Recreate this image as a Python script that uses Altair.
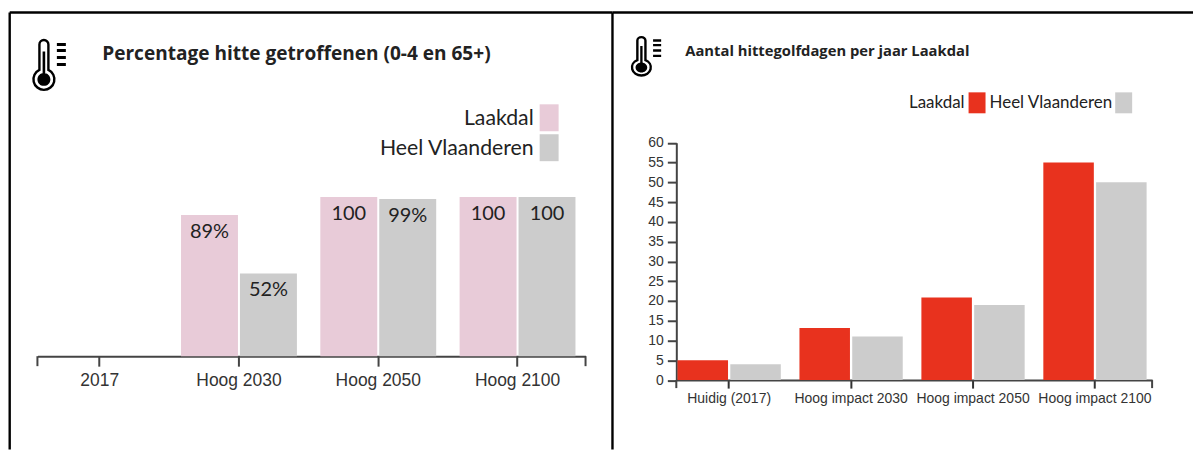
import altair as alt
import pandas as pd

# ---- data ----
left_cats = ["2017", "Hoog 2030", "Hoog 2050", "Hoog 2100"]
right_cats = ["Huidig (2017)", "Hoog impact 2030", "Hoog impact 2050", "Hoog impact 2100"]
series = ["Laakdal", "Heel Vlaanderen"]

left_x = ["Hoog 2030", "Hoog 2030", "Hoog 2050", "Hoog 2050", "Hoog 2100", "Hoog 2100"]
left_s = ["Laakdal", "Heel Vlaanderen"] * 3
left_v = [88.8, 52, 100, 98.8, 100, 100]
left_l = ["89%", "52%", "100", "99%", "100", "100"]

right_laakdal = [5, 13.2, 20.9, 55]
right_vlaanderen = [4, 11, 19, 50]
y_ticks = list(range(0, 65, 5))

PINK, GREY, RED = "#E8CBD8", "#CCCCCC", "#E8321E"
CAL = "Lato"
TITLE = "Open Sans"
ARIAL = "Liberation Sans"
W1, W2, H = 605, 582, 442

left_df = pd.DataFrame({"cat": left_x, "s": left_s, "v": left_v, "l": left_l})
right_df = pd.DataFrame({
    "cat": right_cats * 2,
    "s": ["Laakdal"] * 4 + ["Heel Vlaanderen"] * 4,
    "v": right_laakdal + right_vlaanderen,
})
one = pd.DataFrame({"a": [0]})


def thermo(sx, sy):
    def p(x, y):
        return f"{x*sx:.2f},{y*sy:.2f}"
    out = (f"M{p(-4.5,-9.5)} L{p(-4.5,-35)} A{4.5*sx:.2f} {4.5*sy:.2f} 0 0 1 {p(4.5,-35)} "
           f"L{p(4.5,-9.5)} A{10.5*sx:.2f} {10.5*sy:.2f} 0 1 1 {p(-4.5,-9.5)} Z")
    r = 6.5
    fill = (f"M{p(-r,0)} A{r*sx:.2f} {r*sy:.2f} 0 1 1 {p(r,0)} A{r*sx:.2f} {r*sy:.2f} 0 1 1 {p(-r,0)} Z "
            f"M{p(-1.3,-28)} L{p(1.3,-28)} L{p(1.3,0)} L{p(-1.3,0)} Z ")
    for yy in (-36.5, -30.5, -23.5, -16.5):
        fill += f"M{p(13,yy)} L{p(22,yy)} L{p(22,yy+3)} L{p(13,yy+3)} Z "
    return out, fill


def icon(px, py, sx, sy):
    o, f = thermo(sx, sy)
    a = alt.Chart(one).mark_point(shape=o, size=4, filled=False, stroke="black", strokeWidth=2.4, opacity=1).encode(
        x=alt.value(px), y=alt.value(py))
    b = alt.Chart(one).mark_point(shape=f, size=4, filled=True, fill="black", opacity=1).encode(
        x=alt.value(px), y=alt.value(py))
    return [a, b]


def text(s, x, y, size, bold=False, align="left", font=CAL):
    return alt.Chart(one).mark_text(text=s, align=align, baseline="middle", font=font, fontSize=size,
                                    fontWeight="bold" if bold else "normal", color="#222").encode(
        x=alt.value(x), y=alt.value(y))


def box(x, x2, y, y2, color):
    return alt.Chart(one).mark_rect(color=color).encode(
        x=alt.value(x), x2=alt.value(x2), y=alt.value(y), y2=alt.value(y2))


def line(x, x2, y, y2, color="black", w=2.4):
    enc = {"x": alt.value(x), "y": alt.value(y)}
    if x2 != x:
        enc["x2"] = alt.value(x2)
    if y2 != y:
        enc["y2"] = alt.value(y2)
    return alt.Chart(one).mark_rule(color=color, strokeWidth=w).encode(**enc)


color_left = alt.Color("s:N", scale=alt.Scale(domain=series, range=[PINK, GREY]), legend=None)
color_right = alt.Color("s:N", scale=alt.Scale(domain=series, range=[RED, GREY]), legend=None)

x_left = alt.X("cat:N", sort=left_cats,
               scale=alt.Scale(domain=left_cats, range=[28.5, 578], paddingInner=0.168, paddingOuter=0.0516, align=0.3),
               axis=alt.Axis(title=None, labelAngle=0, offset=348.5 - H, tickSize=10, tickWidth=2, domainWidth=2,
                             domainColor="#444", tickColor="#444", grid=False, labelFont=ARIAL, labelFontSize=17.5,
                             labelColor="#333", labelPadding=5, labelOverlap=False))
y_left = alt.Y("v:Q", scale=alt.Scale(domain=[0, 100], range=[348.5, 189]), axis=None)
off_left = alt.XOffset("s:N", sort=series, scale=alt.Scale(domain=series, paddingInner=0.034))

bars_left = alt.Chart(left_df).mark_bar().encode(x=x_left, y=y_left, xOffset=off_left, color=color_left)
labels_left = alt.Chart(left_df).mark_text(baseline="middle", dy=17, font=CAL, fontSize=20, color="#222").encode(
    x=x_left, y=y_left, xOffset=off_left, text="l:N")

left = alt.layer(
    bars_left, labels_left,
    line(28.5, 28.5, 348.5, 358.5, "#444", 2), line(578, 578, 348.5, 358.5, "#444", 2),
    line(0.7, W1, 4, 4), line(0.7, 0.7, 4, H), line(W1, W1, 4, H),
    *icon(35, 71, 1, 1),
    text("Percentage hitte getroffenen (0-4 en 65+)", 93.5, 46, 19.1, True, font=TITLE),
    text("Laakdal", 526, 111, 21.3, align="right"),
    text("Heel Vlaanderen", 526, 141, 21.3, align="right"),
    box(532, 551, 96, 123, PINK), box(532, 551, 126, 153, GREY),
).properties(width=W1, height=H)

x_right = alt.X("cat:N", sort=right_cats,
                scale=alt.Scale(domain=right_cats, range=[64, 541], paddingInner=0.153, paddingOuter=0.0275, align=0.18),
                axis=alt.Axis(title=None, labelAngle=0, offset=372.5 - H, tickSize=8, tickWidth=2, domainWidth=2,
                              domainColor="#444", tickColor="#333", grid=False, labelFont=ARIAL, labelFontSize=14,
                              labelColor="#333", labelPadding=3, labelOverlap=False))
y_right = alt.Y("v:Q", scale=alt.Scale(domain=[0, 60], range=[372.5, 134.5]),
                axis=alt.Axis(title=None, values=y_ticks, offset=-64, tickSize=9, tickWidth=2, domainWidth=2,
                              domainColor="#444", tickColor="#444", grid=False, labelFont=ARIAL, labelFontSize=14,
                              labelColor="#333", labelPadding=4, labelOverlap=False, tickCount=13))
off_right = alt.XOffset("s:N", sort=series, scale=alt.Scale(domain=series, paddingInner=0.043))

bars_right = alt.Chart(right_df).mark_bar().encode(x=x_right, y=y_right, xOffset=off_right, color=color_right)

right = alt.layer(
    bars_right,
    line(64, 64, 372.5, 380.5, "#444", 2), line(541, 541, 372.5, 380.5, "#444", 2),
    line(0, W2, 4, 4),
    *icon(29, 59, 0.9, 0.77),
    text("Aantal hittegolfdagen per jaar Laakdal", 73, 44, 14.8, True, font=TITLE),
    text("Laakdal", 353, 95, 17, align="right"),
    box(357, 374, 84, 105, RED),
    text("Heel Vlaanderen", 378, 95, 17),
    box(504, 521, 84, 105, GREY),
).properties(width=W2, height=H)

chart = alt.hconcat(left, right, spacing=0, bounds="flush").resolve_scale(
    x="independent", y="independent", color="independent", xOffset="independent"
).configure_view(stroke=None).properties(padding=0)

chart.save("out.html", embed_options={"renderer": "svg", "actions": False})
